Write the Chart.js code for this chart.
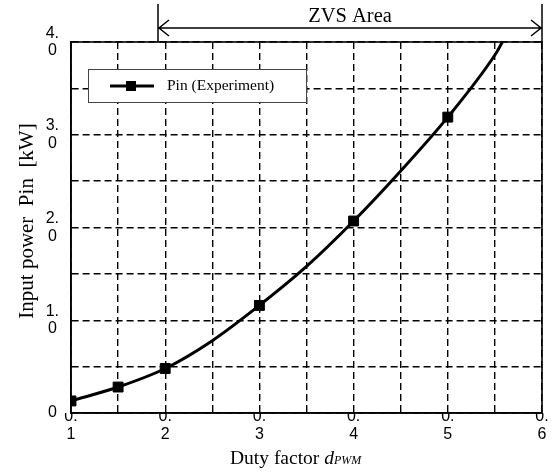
<!DOCTYPE html>
<html>
<head>
<meta charset="utf-8">
<script src="https://cdn.jsdelivr.net/npm/chart.js"></script>
<style>
  html, body { margin: 0; padding: 0; background: #fff; }
  #wrap { width: 552px; height: 473px; position: relative; }
</style>
</head>
<body>
<div id="wrap"><canvas id="pin-chart" width="552" height="473"></canvas></div>
<script>
/* measured points (squares) */
const dutyExp = [0.10, 0.15, 0.20, 0.30, 0.40, 0.50];
const pinExp = [0.13, 0.28, 0.48, 1.16, 2.07, 3.19];

/* fitted curve */
const dutyFit = [0.10, 0.15, 0.20, 0.25, 0.30, 0.35, 0.40, 0.45, 0.50, 0.55, 0.558];
const pinFit = [0.13, 0.28, 0.48, 0.78, 1.16, 1.58, 2.07, 2.61, 3.19, 3.86, 4.0];

const xTicksLabelled = [0.1, 0.2, 0.3, 0.4, 0.5, 0.6];
const yTicksLabelled = [0, 1, 2, 3, 4];

const legendLabel = 'Pin (Experiment)';
const zvsLabel = 'ZVS Area';
const yTitle = 'Input power  Pin  [kW]';

const SERIF = "'Liberation Serif', 'Times New Roman', serif";
const SANS = "'Liberation Sans', Arial, sans-serif";

// frame, legend, ZVS arrow and axis titles
const decorations = {
  id: 'decorations',
  afterDraw(chart) {
    const ctx = chart.ctx;
    const a = chart.chartArea;
    ctx.save();

    // plot frame
    ctx.strokeStyle = '#000';
    ctx.lineWidth = 1.6;
    ctx.setLineDash([]);
    ctx.strokeRect(a.left, a.top, a.right - a.left, a.bottom - a.top);

    // legend box
    const lx = 88, ly = 69, lw = 218, lh = 33;
    ctx.fillStyle = '#fff';
    ctx.fillRect(lx, ly, lw, lh);
    ctx.strokeStyle = '#444';
    ctx.lineWidth = 1;
    ctx.strokeRect(lx + 0.5, ly + 0.5, lw, lh);
    const my = ly + lh / 2 + 0.5;
    ctx.strokeStyle = '#000';
    ctx.lineWidth = 3;
    ctx.beginPath();
    ctx.moveTo(110, my);
    ctx.lineTo(154, my);
    ctx.stroke();
    ctx.fillStyle = '#000';
    ctx.fillRect(126, my - 5, 10, 10);
    ctx.font = '15.5px ' + SERIF;
    ctx.textBaseline = 'middle';
    ctx.textAlign = 'left';
    ctx.fillText(legendLabel, 167, my);

    // ZVS area arrow
    const zx0 = 158, zx1 = a.right, zy = 28;
    ctx.lineWidth = 1.5;
    ctx.beginPath();
    ctx.moveTo(zx0, 4); ctx.lineTo(zx0, a.top);
    ctx.moveTo(zx1, 4); ctx.lineTo(zx1, a.top);
    ctx.moveTo(zx0 + 1, zy); ctx.lineTo(zx1 - 1, zy);
    ctx.moveTo(zx0 + 11, zy - 8); ctx.lineTo(zx0 + 1, zy); ctx.lineTo(zx0 + 11, zy + 8);
    ctx.moveTo(zx1 - 11, zy - 8); ctx.lineTo(zx1 - 1, zy); ctx.lineTo(zx1 - 11, zy + 8);
    ctx.stroke();
    ctx.font = '20.5px ' + SERIF;
    ctx.textAlign = 'center';
    ctx.textBaseline = 'alphabetic';
    ctx.fillText(zvsLabel, 350, 22);

    // y title
    ctx.save();
    ctx.translate(27, 221);
    ctx.rotate(-Math.PI / 2);
    ctx.font = '21px ' + SERIF;
    ctx.textAlign = 'center';
    ctx.textBaseline = 'middle';
    ctx.fillText(yTitle, 0, 0);
    ctx.restore();

    // x title: Duty factor d_PWM
    ctx.textAlign = 'left';
    ctx.textBaseline = 'alphabetic';
    ctx.font = '19.5px ' + SERIF;
    const t1 = 'Duty factor ';
    let tx = 230;
    const ty = 464;
    ctx.fillText(t1, tx, ty);
    tx += ctx.measureText(t1).width;
    ctx.font = 'italic 19.5px ' + SERIF;
    ctx.fillText('d', tx, ty);
    tx += ctx.measureText('d').width;
    ctx.font = 'italic 12px ' + SERIF;
    ctx.fillText('PWM', tx, ty);

    ctx.restore();
  }
};

const pinChart = new Chart(document.getElementById('pin-chart').getContext('2d'), {
  type: 'scatter',
  data: {
    datasets: [{
      label: legendLabel,
      data: dutyExp.map((d, i) => ({ x: d, y: pinExp[i] })),
      showLine: false,
      pointStyle: 'rect',
      pointRadius: 7,
      pointHoverRadius: 7,
      backgroundColor: '#000',
      borderColor: '#000',
      order: 0
    },
    {
      label: 'fit',
      data: dutyFit.map((d, i) => ({ x: d, y: pinFit[i] })),
      showLine: true,
      pointRadius: 0,
      borderColor: '#000',
      borderWidth: 3,
      cubicInterpolationMode: 'monotone',
      fill: false,
      order: 1
    }]
  },
  options: {
    responsive: false,
    animation: false,
    layout: { padding: { top: 42, right: 10, left: 0, bottom: 0 } },
    plugins: {
      legend: { display: false },
      tooltip: { enabled: false }
    },
    scales: {
      x: {
        type: 'linear',
        min: 0.1,
        max: 0.6,
        afterFit: (scale) => { scale.height = 60; },
        grid: { color: '#000', lineWidth: 1.4, drawTicks: false },
        border: { display: true, color: '#000', width: 1.6, dash: [7, 4] },
        ticks: {
          stepSize: 0.05,
          autoSkip: false,
          maxRotation: 0,
          padding: -6,
          color: '#000',
          font: { family: SANS, size: 16, lineHeight: 1.15 },
          callback: (v) => {
            const k = Math.round(v * 100);
            if (k % 10 !== 0 || !xTicksLabelled.includes(k / 100)) return '';
            return ['0.', String(k / 10)];
          }
        }
      },
      y: {
        type: 'linear',
        min: 0,
        max: 4,
        afterFit: (scale) => { scale.width = 71; },
        grid: { color: '#000', lineWidth: 1.4, drawTicks: false },
        border: { display: true, color: '#000', width: 1.6, dash: [7, 4] },
        ticks: {
          stepSize: 0.5,
          padding: 12,
          crossAlign: 'center',
          color: '#000',
          font: { family: SANS, size: 16, lineHeight: 1.1 },
          callback: (v) => {
            const r = Math.round(v * 10) / 10;
            if (!yTicksLabelled.includes(r)) return '';
            if (r === 0) return '0';
            return [r + '.', '0'];
          }
        }
      }
    }
  },
  plugins: [decorations]
});
</script>
</body>
</html>
